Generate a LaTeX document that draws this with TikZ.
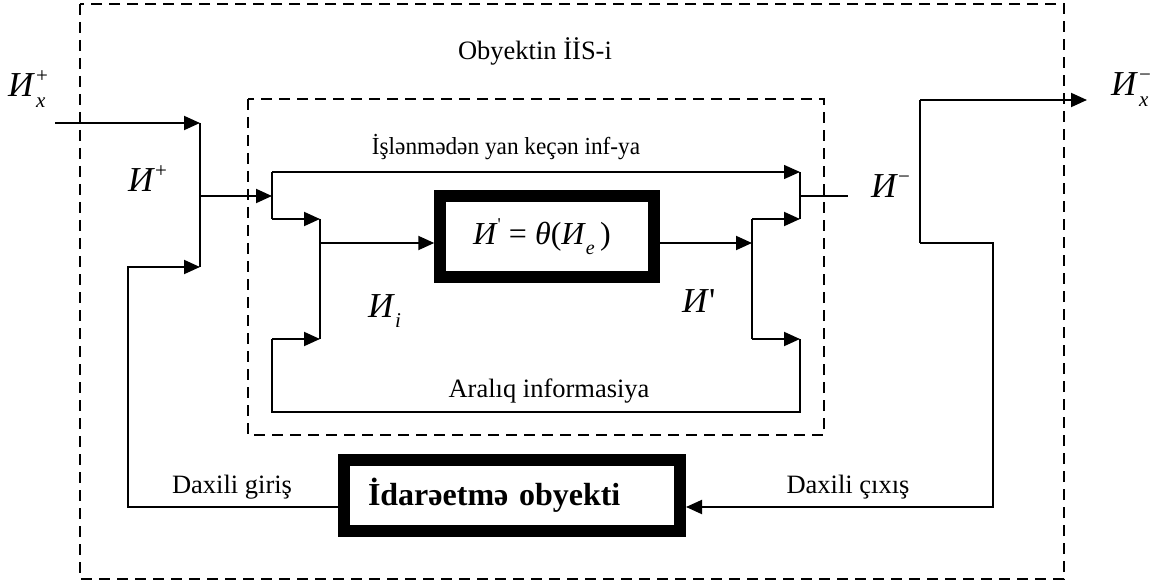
\documentclass[tikz,border=0pt]{standalone}
\usepackage{fontspec}
\usepackage{graphicx}
\setmainfont{Liberation Serif}
\usetikzlibrary{arrows.meta,calc}

% font sizes used in the scheme
\newcommand\txtsz{\fontsize{26.5}{30}\selectfont}
\newcommand\smtxtsz{\fontsize{24.5}{28}\selectfont}
\newcommand\bigI{\fontsize{35}{40}\selectfont}
\newcommand\scr[1]{{\fontsize{21}{21}\selectfont #1}}
% the information symbol and its indexed variants
\newcommand\Ii{\textit{И}}
\newcommand\Iupdown[2]{\Ii\kern1pt\rlap{\raisebox{0.42em}{\scr{#1}}}\raisebox{-0.3em}{\scr{\itshape #2}}}

\begin{document}
\begin{tikzpicture}[x=1pt,y=-1pt,
  wire/.style={line width=1.9pt},
  fine/.style={line width=1.3pt},
  tip/.style={-{Triangle[length=16pt,width=14pt]}},
  frame/.style={line width=1.6pt, dash pattern=on 11pt off 7pt},
  heavy/.style={draw, line width=12pt, inner sep=0pt},
  lbl/.style={inner sep=0pt, anchor=base, font=\txtsz},
  sym/.style={inner sep=0pt, anchor=base west, font=\bigI}]

\useasboundingbox (0,0) rectangle (1158,585);

% system boundaries
\draw[frame] (80,4) rectangle (1064,579);
\draw[frame] (248,99) rectangle (824,435);

% processing block and controlled object
\node[heavy, minimum width=213.5pt, minimum height=81pt] (theta) at (547,236.5)
  {\fontsize{32}{36}\selectfont \Ii\raisebox{0.45em}{{\fontsize{18}{18}\selectfont\textquotesingle}}\ = \textit{θ}(\Ii\raisebox{-0.3em}{{\fontsize{20}{20}\selectfont\itshape e}}\,)\kern10pt};
\node[heavy, minimum width=336pt, minimum height=71pt, text width=304pt, align=left,
      inner xsep=16pt, font=\fontsize{32}{36}\selectfont\bfseries] (obj) at (512,495.5)
  {\hspace*{8pt}İdarəetmə obyekti};

% junction points
\coordinate (in0) at (55,123);
\coordinate (a1) at (200,123);
\coordinate (a2) at (200,196);
\coordinate (a3) at (200,267);
\coordinate (fb1) at (128,267);
\coordinate (fb2) at (128,507);
\coordinate (b1) at (272,172);
\coordinate (b2) at (272,196);
\coordinate (b3) at (272,219);
\coordinate (c1) at (320,219);
\coordinate (c2) at (320,243);
\coordinate (c3) at (320,339);
\coordinate (d1) at (752,219);
\coordinate (d2) at (752,243);
\coordinate (d3) at (752,339);
\coordinate (e1) at (800,172);
\coordinate (e2) at (800,196);
\coordinate (e3) at (800,219);
\coordinate (f3) at (800,339);
\coordinate (out0) at (848,196);
\coordinate (lp1) at (800,412);
\coordinate (lp2) at (272,412);
\coordinate (lp3) at (272,339);
\coordinate (g1) at (920,100);
\coordinate (g2) at (920,243);
\coordinate (gx) at (1087,100);
\coordinate (h1) at (993,243);
\coordinate (h2) at (993,507);

% input side
\draw[wire,tip] (in0) -- (a1);
\draw[wire] (a1) -- (a3);
\draw[wire,tip] (obj.west |- fb2) -- (fb2) -- (fb1) -- (a3);
\draw[wire,tip] (a2) -- (b2);
\draw[wire] (b1) -- (b3);
\draw[fine,tip] (b1) -- (e1);
\draw[wire,tip] (b3) -- (c1);
\draw[wire] (c1) -- (c3);
\draw[wire,tip] (c2) -- (theta.west |- c2);

% output side
\draw[wire,tip] (theta.east |- d2) -- (d2);
\draw[wire] (d1) -- (d3);
\draw[wire,tip] (d1) -- (e3);
\draw[wire,tip] (d3) -- (f3);
\draw[wire] (e1) -- (e3);
\draw[wire] (e2) -- (out0);

% intermediate information loop
\draw[fine] (f3) -- (lp1) -- (lp2) -- (lp3);
\draw[wire,tip] (lp3) -- (c3);

% external output and internal feedback
\draw[wire] (g2) -- (g1);
\draw[wire,tip] (g1) -- (gx);
\draw[wire,tip] (g2) -- (h1) -- (h2) -- (obj.east |- h2);

% labels
\node[lbl] (t1) at (535,60) {Obyektin İİS-i};
\node[lbl, font=\smtxtsz] (t2) at (506,155) {\scalebox{0.95}[1]{İşlənmədən yan keçən inf-ya}};
\node[lbl] (t3) at (549,397) {Aralıq informasiya};
\node[lbl] (t4) at (232,493) {Daxili giriş};
\node[lbl] (t5) at (848,493) {Daxili çıxış};
\node[sym] (ixp) at (8,97) {\Iupdown{+}{x}};
\node[sym] (ixm) at (1111,96) {\Iupdown{−}{x}};
\node[sym] (ip) at (128,192) {\Ii\raisebox{0.42em}{\scr{+}}};
\node[sym] (im) at (871,198) {\Ii\raisebox{0.42em}{\scr{−}}};
\node[sym] (ii) at (368,317) {\Ii\raisebox{-0.3em}{\scr{\itshape i}}};
\node[sym] (ipr) at (682,312) {\Ii\textquotesingle};
\end{tikzpicture}
\end{document}
